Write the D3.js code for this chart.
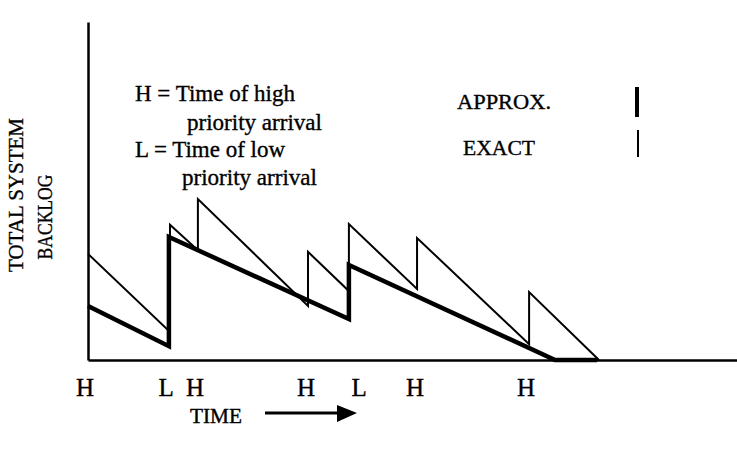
<!DOCTYPE html>
<html>
<head>
<meta charset="utf-8">
<script src="https://cdn.jsdelivr.net/npm/d3@7"></script>
<style>
  html, body { margin: 0; padding: 0; background: #fff; }
  svg { display: block; }
  text { font-family: "Liberation Serif", "DejaVu Serif", serif; fill: #000; stroke: #000; stroke-width: 0.35px; }
</style>
</head>
<body>
<svg id="chart" width="737" height="452"></svg>
<script>
// exact backlog (thin): time, backlog
const exactTime = [0, 3.79, 3.79, 5.08, 5.08, 10.17, 10.17, 12.06, 12.06, 15.21, 15.21, 20.39, 20.39, 23.62];
const exactBacklog = [3.14, 0.83, 4.0, 3.25, 4.76, 1.6, 3.2, 2.04, 4.02, 2.1, 3.61, 0.47, 2.01, 0];

// approximate backlog (thick)
const approxTime = [0, 3.74, 3.74, 12.06, 12.06, 21.59, 23.53];
const approxBacklog = [1.6, 0.41, 3.64, 1.21, 2.81, 0, 0];

// arrival labels under the axis
const arrivalLabels = ["H", "L", "H", "H", "L", "H", "H"];
const arrivalTicks = [-0.14, 3.61, 4.95, 10.08, 12.53, 15.12, 20.25];

const legendLines = ["H = Time of high", "priority arrival", "L = Time of low", "priority arrival"];

const W = 737;
const H = 452;
const margin = { top: 22, right: 0, bottom: 92, left: 88 };
const plotW = W - margin.left - margin.right;
const plotH = H - margin.top - margin.bottom;

const x = d3.scaleLinear().domain([0, 30]).range([0, plotW]);
const y = d3.scaleLinear().domain([0, 10]).range([plotH, 0]);

const svg = d3.select("#chart");
const g = svg.append("g").attr("transform", `translate(${margin.left},${margin.top})`);

const line = d3.line()
  .x((d) => x(d[0]))
  .y((d) => y(d[1]));

g.append("path")
  .datum(exactTime.map((t, i) => [t, exactBacklog[i]]))
  .attr("d", line)
  .attr("fill", "none")
  .attr("stroke", "#000")
  .attr("stroke-width", 2)
  .attr("stroke-linejoin", "miter");

g.append("path")
  .datum(approxTime.map((t, i) => [t, approxBacklog[i]]))
  .attr("d", line)
  .attr("fill", "none")
  .attr("stroke", "#000")
  .attr("stroke-width", 4.5)
  .attr("stroke-linejoin", "miter");

// bare axes, no ticks
g.append("g")
  .call(d3.axisLeft(y).tickValues([]).tickSizeOuter(0))
  .call((sel) => sel.select(".domain").attr("stroke", "#000").attr("stroke-width", 2.5));

g.append("g")
  .attr("transform", `translate(0,${plotH})`)
  .call(d3.axisBottom(x).tickValues([]).tickSizeOuter(0))
  .call((sel) => sel.select(".domain").attr("stroke", "#000").attr("stroke-width", 2.5));

g.selectAll("text.arrival")
  .data(arrivalLabels)
  .join("text")
  .attr("class", "arrival")
  .attr("x", (d, i) => x(arrivalTicks[i]))
  .attr("y", plotH + 36)
  .attr("text-anchor", "middle")
  .attr("font-size", "25px")
  .text((d) => d);

// TIME + arrow
svg.append("text")
  .attr("x", 190)
  .attr("y", 423)
  .attr("font-size", "20px")
  .attr("textLength", 52)
  .attr("lengthAdjust", "spacingAndGlyphs")
  .text("TIME");

svg.append("line")
  .attr("x1", 265).attr("x2", 340)
  .attr("y1", 413).attr("y2", 413)
  .attr("stroke", "#000")
  .attr("stroke-width", 3);

svg.append("path")
  .attr("d", "M337,405L357,413L337,422Z")
  .attr("fill", "#000");

// y label, two rotated lines
svg.append("text")
  .attr("transform", "translate(23,195) rotate(-90)")
  .attr("text-anchor", "middle")
  .attr("font-size", "22px")
  .attr("textLength", 154)
  .attr("lengthAdjust", "spacingAndGlyphs")
  .text("TOTAL SYSTEM");

svg.append("text")
  .attr("transform", "translate(52,217) rotate(-90)")
  .attr("text-anchor", "middle")
  .attr("font-size", "22px")
  .attr("textLength", 85)
  .attr("lengthAdjust", "spacingAndGlyphs")
  .text("BACKLOG");

// key for H / L
const legendX = [135, 187, 135, 182];
const legendY = [101, 130, 157, 185];
const legendW = [160, 135, 150, 135];
svg.selectAll("text.key")
  .data(legendLines)
  .join("text")
  .attr("class", "key")
  .attr("x", (d, i) => legendX[i])
  .attr("y", (d, i) => legendY[i])
  .attr("font-size", "23px")
  .attr("textLength", (d, i) => legendW[i])
  .attr("lengthAdjust", "spacingAndGlyphs")
  .text((d) => d);

// line style key
svg.append("text")
  .attr("x", 457).attr("y", 109)
  .attr("font-size", "21px")
  .attr("textLength", 94)
  .attr("lengthAdjust", "spacingAndGlyphs")
  .text("APPROX.");

svg.append("text")
  .attr("x", 463).attr("y", 155)
  .attr("font-size", "21px")
  .attr("textLength", 72)
  .attr("lengthAdjust", "spacingAndGlyphs")
  .text("EXACT");

svg.append("line")
  .attr("x1", 637).attr("x2", 637)
  .attr("y1", 87).attr("y2", 117)
  .attr("stroke", "#000")
  .attr("stroke-width", 4);

svg.append("line")
  .attr("x1", 638).attr("x2", 638)
  .attr("y1", 130).attr("y2", 157)
  .attr("stroke", "#000")
  .attr("stroke-width", 2);
</script>
</body>
</html>
